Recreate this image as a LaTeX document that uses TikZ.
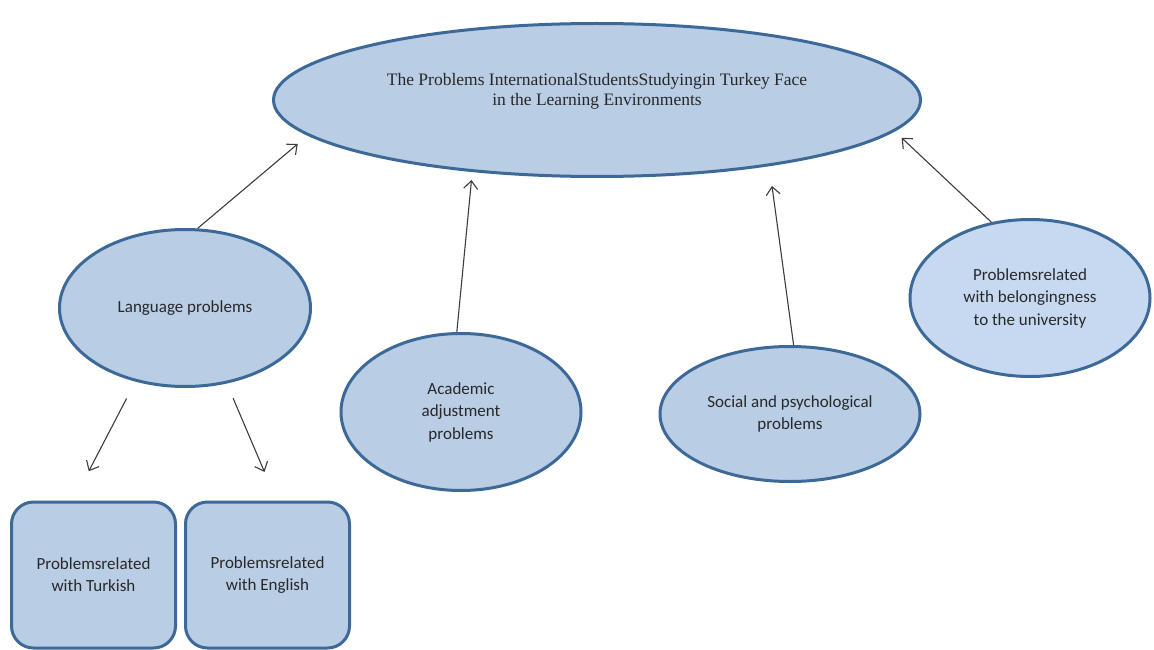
\documentclass[tikz,border=0pt]{standalone}
\usepackage{fontspec}
\setmainfont{Carlito}
\newfontfamily\topfont{Liberation Serif}
\usetikzlibrary{shapes.geometric,arrows.meta}
\definecolor{fillblue}{RGB}{185,205,229}
\definecolor{lightblue}{RGB}{198,217,240}
\definecolor{edgeblue}{RGB}{61,105,152}
\definecolor{arrowgray}{RGB}{60,60,60}
\definecolor{textgray}{RGB}{40,40,40}
\begin{document}
\begin{tikzpicture}[x=1pt,y=-1pt,
  oval/.style={ellipse,draw=edgeblue,fill=fillblue,line width=3pt,inner sep=0pt,
    align=center,text=textgray,font=\fontsize{17}{22.5}\selectfont},
  card/.style={rectangle,rounded corners=22pt,draw=edgeblue,fill=fillblue,line width=3pt,
    inner sep=0pt,align=center,text=textgray,minimum width=164pt,minimum height=146pt,
    font=\fontsize{17}{22}\selectfont},
  link/.style={draw=arrowgray,line width=1.1pt,-{Straight Barb[length=8pt,width=14pt]}}]
\useasboundingbox (0,0) rectangle (1154,650);

\node[oval,minimum width=647pt,minimum height=153pt,font=\topfont\fontsize{17.5}{20}\selectfont]
  (main) at (597,100) {The Problems InternationalStudentsStudyingin Turkey Face\\in the Learning Environments\\[1pt]};
\node[oval,minimum width=251pt,minimum height=157pt] (lang) at (185,308) {Language problems};
\node[oval,minimum width=240pt,minimum height=157pt] (acad) at (461,412) {Academic\\adjustment\\problems};
\node[oval,minimum width=260pt,minimum height=135pt] (soc) at (790,414) {Social and psychological\\problems};
\node[oval,fill=lightblue,minimum width=240pt,minimum height=157pt] (bel) at (1030,298) {Problemsrelated\\with belongingness\\to the university};
\node[card] (turk) at (93.5,575) {Problemsrelated\\with Turkish};
\node[card] (eng) at (267.5,575) {Problemsrelated\\with English};

\draw[link,shorten >=13pt] (lang.81) -- (main.187.4);
\draw[link,shorten >=8pt] (acad.93) -- (main.210.6);
\draw[link,shorten >=20pt] (soc.87.5) -- (main.339.7);
\draw[link,shorten >=9.5pt] (bel.117.7) -- (main.354.2);
\draw[link,shorten <=19pt,shorten >=33pt] (lang.236.7) -- (turk.105);
\draw[link,shorten <=16pt,shorten >=31pt] (lang.299.7) -- (eng.83.5);
\end{tikzpicture}
\end{document}
